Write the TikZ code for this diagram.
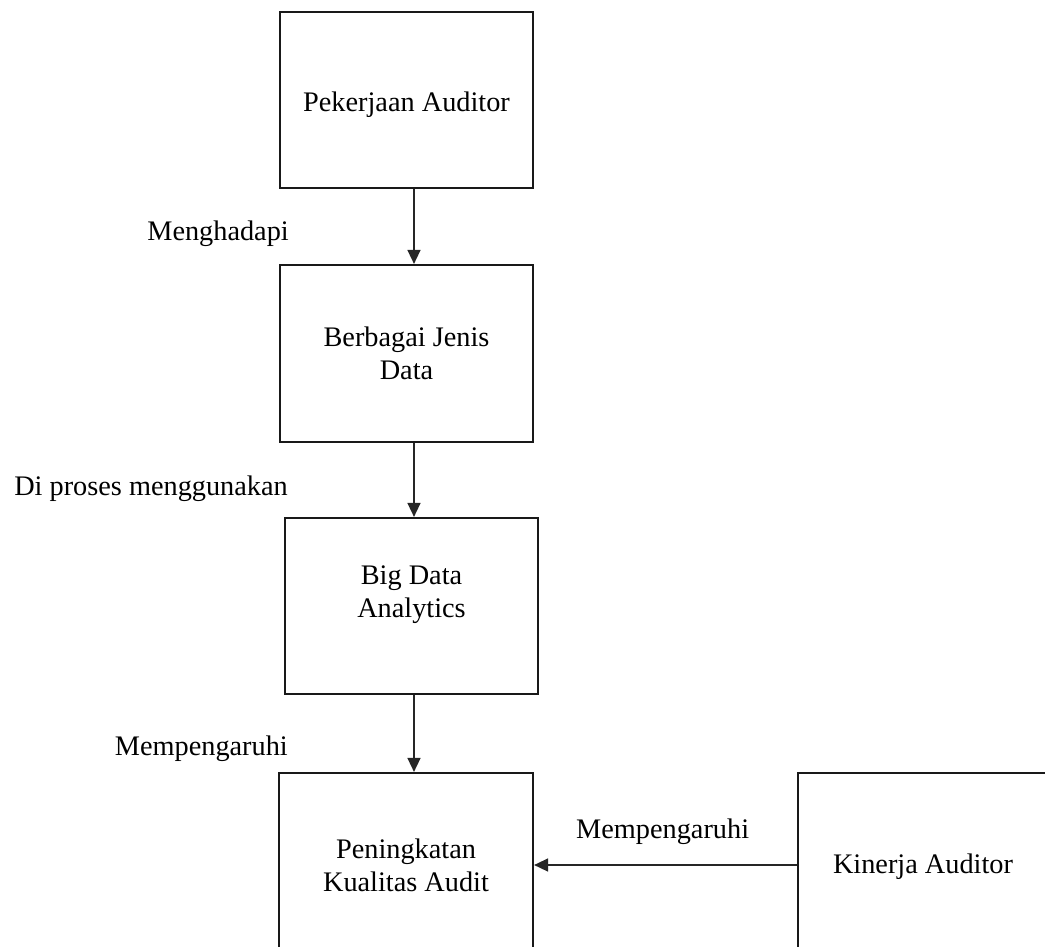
\documentclass[tikz,border=0pt]{standalone}
\usepackage{fontspec}
\setmainfont{Liberation Serif}
\usetikzlibrary{arrows.meta}
\begin{document}
\begin{tikzpicture}[x=1pt,y=-1pt,
  box/.style={draw=black!90,line width=2.2pt,minimum width=253pt,inner sep=0pt},
  txt/.style={align=center,inner sep=0pt,font=\fontsize{28.3}{33}\selectfont},
  lbl/.style={inner sep=0pt,font=\fontsize{28.3}{33}\selectfont},
  conn/.style={draw=black!85,line width=1.5pt,-{Triangle[length=14pt,width=13pt]}}]
\useasboundingbox (0,0) rectangle (1045,946);
\fill[white] (0,0) rectangle (1045,946);
\node[box,minimum height=176pt] (b1) at (406.5,100) {};
\node[txt,yshift=-5pt] (t1) at (b1.center) {Pekerjaan Auditor};
\node[box,minimum height=177pt] (b2) at (406.5,353.5) {};
\node[txt] (t2) at (b2.center) {Berbagai Jenis\\Data};
\node[box,minimum height=176pt] (b3) at (411.5,606) {};
\node[txt,yshift=11pt] (t3) at (b3.center) {Big Data\\Analytics};
\begin{scope}
\clip (0,0) rectangle (1045,946);
\node[box,minimum width=254pt,minimum height=184pt] (b4) at (406,865) {};
\node[box,minimum width=250pt,minimum height=184pt] (b5) at (923,865) {};
\end{scope}
\node[txt] (t4) at (b4.center) {Peningkatan\\Kualitas Audit};
\node[txt,yshift=-2pt] (t5) at (b5.center) {Kinerja Auditor};
\coordinate (ax) at (414,0);
\draw[conn] (b1.south -| ax) -- (b2.north -| ax);
\draw[conn] (b2.south -| ax) -- (b3.north -| ax);
\draw[conn] (b3.south -| ax) -- (b4.north -| ax);
\draw[conn] (b5.west) -- (b4.east);
\node[lbl,anchor=base east] (l1) at (289,240) {Menghadapi};
\node[lbl,anchor=base east] (l2) at (288,495) {Di proses menggunakan};
\node[lbl,anchor=base east] (l3) at (288,755) {Mempengaruhi};
\node[lbl,anchor=base west] (l4) at (576,838) {Mempengaruhi};
\end{tikzpicture}
\end{document}
